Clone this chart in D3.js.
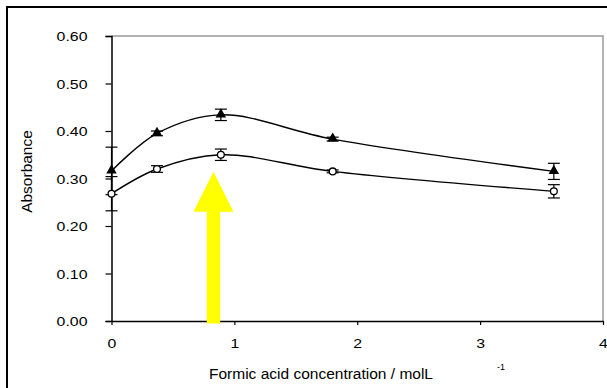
<!DOCTYPE html>
<html>
<head>
<meta charset="utf-8">
<script src="https://cdn.jsdelivr.net/npm/d3@7"></script>
<style>
  body { margin: 0; background: #fff; }
  svg { display: block; font-family: "Liberation Sans", Arial, sans-serif; }
</style>
</head>
<body>
<div id="chart"></div>
<script>
// data
var conc = [0, 0.37, 0.89, 1.8, 3.6];
var absTriangle = [0.316, 0.395, 0.434, 0.383, 0.315];
var errTriangle = [0.05, 0.005, 0.012, 0.004, 0.017];
var absCircle = [0.268, 0.32, 0.35, 0.315, 0.273];
var errCircle = [0.036, 0.007, 0.012, 0.003, 0.014];
var xTicks = [0, 1, 2, 3, 4];
var yTicks = [0, 0.1, 0.2, 0.3, 0.4, 0.5, 0.6];
// yellow arrow (in data units): x position, tip, head base, tail
var arrowX = 0.83, arrowTip = 0.314, arrowBase = 0.23, arrowTail = -0.005;

var width = 607, height = 388;
var plot = {left: 111.5, right: 603, top: 36, bottom: 321};

var svg = d3.select("#chart").append("svg")
    .attr("width", width)
    .attr("height", height);

// outer chart border (runs off the right/bottom edge)
svg.append("rect")
    .attr("x", 7).attr("y", 7)
    .attr("width", 640).attr("height", 420)
    .style("fill", "none")
    .style("stroke", "#000")
    .style("stroke-width", "2px");

var x = d3.scaleLinear().domain([0, 4]).range([plot.left, plot.right]);
var y = d3.scaleLinear().domain([0, 0.6]).range([plot.bottom, plot.top]);

// plot area frame, top and right in grey
svg.append("path")
    .attr("d", "M" + plot.left + "," + plot.top + "H" + plot.right + "V" + plot.bottom)
    .style("fill", "none")
    .style("stroke", "#999")
    .style("stroke-width", "1.5px");

var sx = 1.22; // tick labels in the reference look horizontally stretched

// Y axis
var yAxis = svg.append("g")
    .attr("transform", "translate(" + plot.left + ",0)")
    .call(d3.axisLeft(y).tickValues(yTicks).tickSize(6).tickPadding(0).tickFormat(d3.format(".2f")));
yAxis.select(".domain").attr("stroke-width", 1.5);
yAxis.selectAll(".tick line").attr("stroke-width", 1.2);
yAxis.selectAll("text")
    .attr("font-size", "13px")
    .attr("font-family", "Liberation Sans, Arial, sans-serif")
    .attr("fill", "#000")
    .attr("x", -24 / sx)
    .attr("dy", "0.36em")
    .attr("transform", "scale(" + sx + ",1)");

// X axis
var xAxis = svg.append("g")
    .attr("transform", "translate(0," + plot.bottom + ")")
    .call(d3.axisBottom(x).tickValues(xTicks).tickSize(4).tickSizeOuter(0).tickPadding(0).tickFormat(d3.format("d")));
xAxis.select(".domain").attr("stroke-width", 1.5);
xAxis.selectAll(".tick line").attr("stroke-width", 1.2);
xAxis.selectAll("text")
    .attr("font-size", "13px")
    .attr("font-family", "Liberation Sans, Arial, sans-serif")
    .attr("fill", "#000")
    .attr("y", 27.5)
    .attr("dy", 0)
    .attr("transform", "scale(" + sx + ",1)")
    .attr("x", 0);
// scale around the tick position, so move the text back
xAxis.selectAll(".tick").each(function (d) {
  d3.select(this).select("text").attr("transform", null)
    .attr("textLength", null);
});
xAxis.selectAll("text").style("font-size", "13px")
    .attr("transform", "scale(" + sx + ",1)");

// axis titles
svg.append("text")
    .text("Absorbance")
    .attr("font-size", "15.5px")
    .attr("text-anchor", "middle")
    .attr("transform", "translate(32,171.5) rotate(-90)");

svg.append("text")
    .text("Formic acid concentration / molL")
    .attr("font-size", "15.5px")
    .attr("text-anchor", "middle")
    .attr("x", 321)
    .attr("y", 379);

svg.append("text")
    .text("-1")
    .attr("font-size", "9px")
    .attr("x", 497)
    .attr("y", 370);

// series
var series = [
  {values: absTriangle, err: errTriangle, symbol: "triangle"},
  {values: absCircle, err: errCircle, symbol: "circle"}
];

var line = d3.line()
    .x(function (d) { return x(d.x); })
    .y(function (d) { return y(d.y); })
    .curve(d3.curveCatmullRom.alpha(0.5));

series.forEach(function (s) {
  var pts = conc.map(function (c, i) { return {x: c, y: s.values[i], e: s.err[i]}; });

  svg.append("path")
      .datum(pts)
      .style("fill", "none")
      .style("stroke", "#000")
      .style("stroke-width", "1.4px")
      .attr("d", line);

  // error bars
  var eb = svg.append("g").selectAll("g")
      .data(pts)
      .enter().append("g");
  eb.append("line")
      .attr("x1", function (d) { return x(d.x); })
      .attr("x2", function (d) { return x(d.x); })
      .attr("y1", function (d) { return y(d.y - d.e); })
      .attr("y2", function (d) { return y(d.y + d.e); })
      .style("stroke", "#000").style("stroke-width", "1.2px");
  [-1, 1].forEach(function (sgn) {
    eb.append("line")
        .attr("x1", function (d) { return x(d.x) - 6; })
        .attr("x2", function (d) { return x(d.x) + 6; })
        .attr("y1", function (d) { return y(d.y + sgn * d.e); })
        .attr("y2", function (d) { return y(d.y + sgn * d.e); })
        .style("stroke", "#000").style("stroke-width", "1.2px");
  });

  // markers
  if (s.symbol === "triangle") {
    svg.append("g").selectAll("path")
        .data(pts)
        .enter().append("path")
        .attr("d", d3.symbol().type(d3.symbolTriangle).size(48))
        .attr("transform", function (d) { return "translate(" + x(d.x) + "," + (y(d.y) - 0.5) + ")"; })
        .style("fill", "#000");
  } else {
    svg.append("g").selectAll("circle")
        .data(pts)
        .enter().append("circle")
        .attr("cx", function (d) { return x(d.x); })
        .attr("cy", function (d) { return y(d.y); })
        .attr("r", 3.4)
        .style("fill", "#fff")
        .style("stroke", "#000")
        .style("stroke-width", "1.3px");
  }
});

// yellow arrow
var ax = x(arrowX), headHalf = 20, shaftHalf = 6.7;
var arrowPts = [
  [ax, y(arrowTip)],
  [ax + headHalf, y(arrowBase)],
  [ax + shaftHalf, y(arrowBase)],
  [ax + shaftHalf, y(arrowTail)],
  [ax - shaftHalf, y(arrowTail)],
  [ax - shaftHalf, y(arrowBase)],
  [ax - headHalf, y(arrowBase)]
];
svg.append("path")
    .attr("d", "M" + arrowPts.join("L") + "Z")
    .style("fill", "#ffff00")
    .style("stroke", "none");
</script>
</body>
</html>
